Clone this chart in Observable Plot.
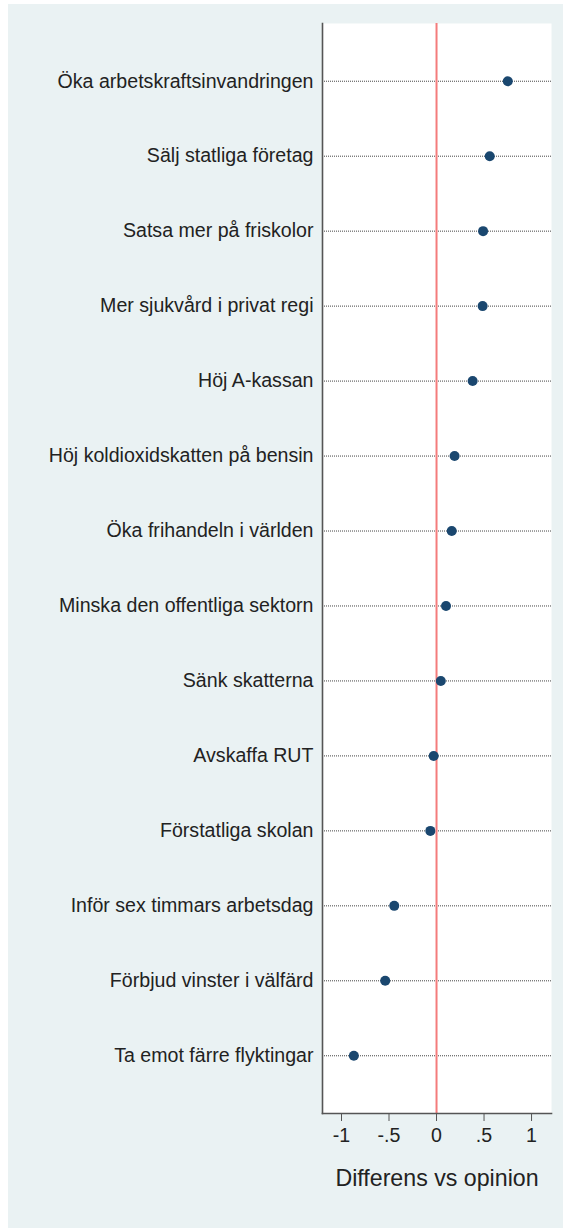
<!DOCTYPE html>
<html>
<head>
<meta charset="utf-8">
<script src="https://cdn.jsdelivr.net/npm/d3@7"></script>
<script src="https://cdn.jsdelivr.net/npm/@observablehq/plot@0.6"></script>
<style>
  html, body { margin: 0; padding: 0; background: #ffffff; }
  #chart { position: absolute; left: 8px; top: 4px; }
  #chart svg { display: block; }
</style>
</head>
<body>
<div id="chart"></div>
<script>
const items = [
  "Öka arbetskraftsinvandringen",
  "Sälj statliga företag",
  "Satsa mer på friskolor",
  "Mer sjukvård i privat regi",
  "Höj A-kassan",
  "Höj koldioxidskatten på bensin",
  "Öka frihandeln i världen",
  "Minska den offentliga sektorn",
  "Sänk skatterna",
  "Avskaffa RUT",
  "Förstatliga skolan",
  "Inför sex timmars arbetsdag",
  "Förbjud vinster i välfärd",
  "Ta emot färre flyktingar"
];
const values = [0.75, 0.56, 0.49, 0.485, 0.38, 0.19, 0.16, 0.10, 0.045, -0.03, -0.065, -0.445, -0.54, -0.87];
const xTicks = [-1, -0.5, 0, 0.5, 1];
const xTickLabels = ["-1", "-.5", "0", ".5", "1"];
const xDomain = [-1.2, 1.21];
const referenceValue = [0];
const xTitle = ["Differens vs opinion"];

const data = items.map((item, i) => ({item, value: values[i]}));

const chart = Plot.plot({
  width: 555,
  height: 1224,
  marginLeft: 314,
  marginRight: 12,
  marginTop: 19,
  marginBottom: 115,
  style: {
    background: "#eaf2f3",
    fontFamily: "'Liberation Sans', Arial, Helvetica, sans-serif",
    fontSize: "19.6px",
    color: "#222"
  },
  x: {domain: xDomain},
  y: {type: "point", domain: items, padding: 0.77, round: false},
  marks: [
    Plot.frame({fill: "white", stroke: null}),
    Plot.ruleY(items, {y: d => d, stroke: "#444", strokeWidth: 1, strokeDasharray: "1,1"}),
    Plot.ruleX(referenceValue, {x: d => d, stroke: "#f47c7c", strokeWidth: 2}),
    Plot.frame({anchor: "left", stroke: "#555", strokeWidth: 1.6}),
    Plot.frame({anchor: "bottom", stroke: "#555", strokeWidth: 1.6}),
    Plot.axisX({
      ticks: xTicks,
      tickFormat: d => xTickLabels[xTicks.indexOf(d)],
      tickSize: 8,
      tickPadding: 7,
      stroke: "#555",
      label: null,
      fill: "#222"
    }),
    Plot.axisY({
      tickSize: 0,
      tickPadding: 9,
      label: null,
      fill: "#222"
    }),
    Plot.dot(data, {x: "value", y: "item", r: 5, fill: "#1a476f", stroke: null}),
    Plot.text(xTitle, {text: d => d, frameAnchor: "bottom", dy: 72, fontSize: 23.2, fill: "#222"})
  ]
});

document.getElementById("chart").appendChild(chart);
</script>
</body>
</html>
